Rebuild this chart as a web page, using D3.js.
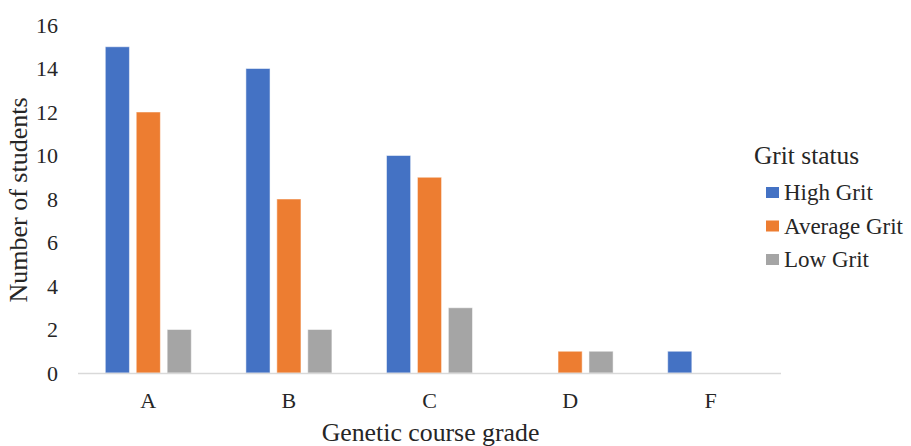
<!DOCTYPE html>
<html>
<head>
<meta charset="utf-8">
<script src="https://cdn.jsdelivr.net/npm/d3@7"></script>
<style>
  body { margin: 0; background: #fff; }
</style>
</head>
<body>
<div class="canvas"></div>
<script>
const grades = ['A', 'B', 'C', 'D', 'F'];
const seriesNames = ['High Grit', 'Average Grit', 'Low Grit'];
const highGrit = [15, 14, 10, 0, 1];
const averageGrit = [12, 8, 9, 1, 0];
const lowGrit = [2, 2, 3, 1, 0];
const yTicks = [0, 2, 4, 6, 8, 10, 12, 14, 16];

const colours = ['#4472C4', '#ED7D31', '#A5A5A5'];
const serif = '"Liberation Serif"';
const ink = '#262626';
const dims = { width: 911, height: 446 };
const plot = { left: 78, right: 781, top: 25, bottom: 373 };

const svg = d3.select('.canvas')
    .append('svg')
    .attr('width', dims.width)
    .attr('height', dims.height);

const x = d3.scaleBand()
    .domain(grades)
    .range([plot.left, plot.right]);

const sub = d3.scaleBand()
    .domain(seriesNames)
    .range([x.bandwidth() / 2 - 43, x.bandwidth() / 2 + 43])
    .paddingInner(0.22);

const y = d3.scaleLinear()
    .domain([0, 16])
    .range([plot.bottom, plot.top]);

const colour = d3.scaleOrdinal().domain(seriesNames).range(colours);

const rows = grades.map((g, i) => ({
    grade: g,
    values: [highGrit[i], averageGrit[i], lowGrit[i]]
}));

// bars
const groups = svg.append('g').selectAll('g')
    .data(rows)
    .enter()
    .append('g')
    .attr('transform', d => `translate(${x(d.grade)},0)`);

groups.selectAll('rect')
    .data(d => d.values.map((v, j) => ({ name: seriesNames[j], value: v })).filter(d => d.value > 0))
    .enter()
    .append('rect')
    .attr('x', d => sub(d.name))
    .attr('width', sub.bandwidth())
    .attr('y', d => y(d.value))
    .attr('height', d => y(0) - y(d.value))
    .attr('fill', d => colour(d.name))
    .attr('stroke', '#ffffff')
    .attr('stroke-opacity', 0.5)
    .attr('stroke-width', 1);

// baseline
svg.append('line')
    .attr('x1', plot.left)
    .attr('x2', plot.right)
    .attr('y1', y(0) + 0.5)
    .attr('y2', y(0) + 0.5)
    .attr('stroke', '#d9d9d9')
    .attr('stroke-width', 1.5);

// y axis labels
const yAxis = svg.append('g')
    .attr('transform', `translate(${plot.left - 20},0)`)
    .call(d3.axisLeft(y).tickValues(yTicks).tickSize(0).tickPadding(0));
yAxis.select('.domain').remove();

// x axis labels
const xAxis = svg.append('g')
    .attr('transform', `translate(0,${plot.bottom})`)
    .call(d3.axisBottom(x).tickSize(0).tickPadding(0));
xAxis.select('.domain').remove();
xAxis.selectAll('.tick text')
    .attr('dy', null)
    .attr('y', 35);

svg.selectAll('.tick text')
    .attr('font-family', serif)
    .attr('font-size', 22)
    .attr('fill', ink);

// axis titles
svg.append('text')
    .attr('transform', `translate(27,200) rotate(-90)`)
    .attr('text-anchor', 'middle')
    .attr('font-family', serif)
    .attr('font-size', 26)
    .attr('fill', ink)
    .text('Number of students');

svg.append('text')
    .attr('x', (plot.left + plot.right) / 2 + 1)
    .attr('y', 441)
    .attr('text-anchor', 'middle')
    .attr('font-family', serif)
    .attr('font-size', 25.8)
    .attr('fill', ink)
    .text('Genetic course grade');

// legend
const legend = svg.append('g').attr('transform', 'translate(754,0)');
legend.append('text')
    .attr('x', 0)
    .attr('y', 164)
    .attr('font-family', serif)
    .attr('font-size', 25.4)
    .attr('fill', ink)
    .text('Grit status');

const items = legend.selectAll('.item')
    .data(seriesNames)
    .enter()
    .append('g')
    .attr('class', 'item')
    .attr('transform', (d, i) => `translate(12,${187 + i * 33.5})`);

items.append('rect')
    .attr('width', 13)
    .attr('height', 11)
    .attr('fill', d => colour(d));

items.append('text')
    .attr('x', 18)
    .attr('y', 13)
    .attr('font-family', serif)
    .attr('font-size', 23)
    .attr('fill', ink)
    .text(d => d);
</script>
</body>
</html>
